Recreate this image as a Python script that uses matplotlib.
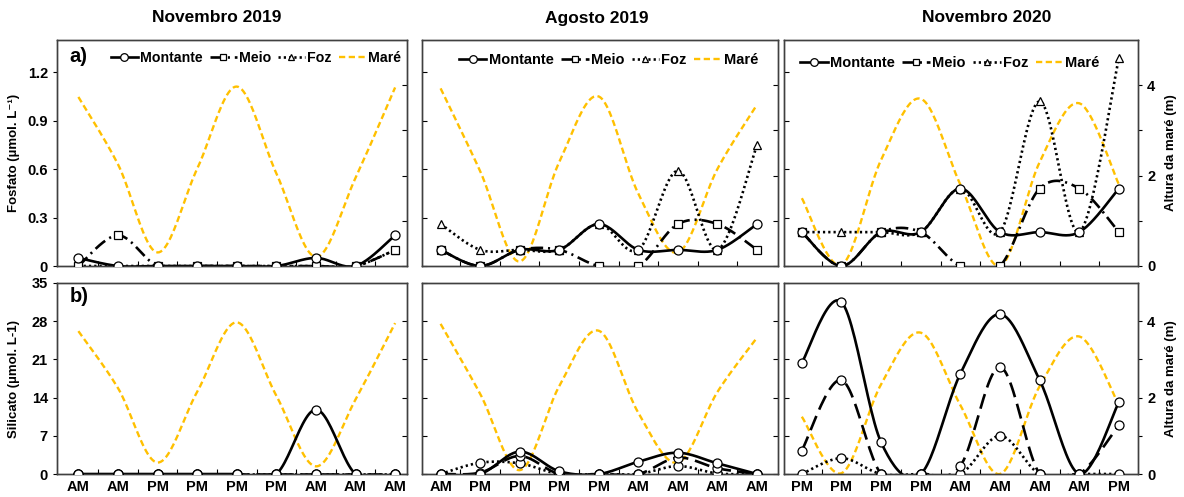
import numpy as np
import matplotlib
matplotlib.use("Agg")
import matplotlib.pyplot as plt
from matplotlib.lines import Line2D

plt.rcParams['font.family'] = ['Liberation Sans', 'DejaVu Sans']
plt.rcParams['font.weight'] = 'bold'
plt.rcParams['axes.labelweight'] = 'bold'
plt.rcParams['lines.scale_dashes'] = False

# ------------------------------
# dados
# ------------------------------
titulos = ["Novembro 2019", "Agosto 2019", "Novembro 2020"]
periodos = [
    ["AM", "AM", "PM", "PM", "PM", "PM", "AM", "AM", "AM"],
    ["AM", "PM", "PM", "PM", "PM", "AM", "AM", "AM", "AM"],
    ["PM", "PM", "PM", "PM", "AM", "AM", "AM", "AM", "PM"],
]

# altura da maré (m)
mare_nov19 = [3.74, 2.25, 0.3, 2.15, 3.97, 2.05, 0.2, 1.95, 3.95]
mare_ago19 = [3.93, 2.1, 0.1, 2.3, 3.75, 1.6, 0.3, 2.15, 3.57]
mare_nov20 = [1.5, 0.02, 2.35, 3.7, 1.8, 0.0, 2.3, 3.6, 1.8]

# fosfato (µmol/L)
fos_nov19_mont = [0.05, 0, 0, 0, 0, 0, 0.05, 0, 0.19]
fos_nov19_meio = [0, 0.19, 0, 0, 0, 0, 0, 0, 0.1]
fos_nov19_foz = [0, 0, 0, 0, 0, 0, 0, 0, 0.1]
fos_ago19_mont = [0.1, 0, 0.1, 0.1, 0.26, 0.1, 0.1, 0.1, 0.26]
fos_ago19_meio = [0.1, 0, 0.1, 0.1, 0, 0, 0.26, 0.26, 0.1]
fos_ago19_foz = [0.26, 0.1, 0.1, 0.1, 0.26, 0.1, 0.59, 0.1, 0.75]
fos_nov20_mont = [0.21, 0, 0.21, 0.21, 0.48, 0.21, 0.21, 0.21, 0.48]
fos_nov20_meio = [0.21, 0, 0.21, 0.21, 0, 0, 0.48, 0.48, 0.21]
fos_nov20_foz = [0.21, 0.21, 0.21, 0.21, 0.48, 0.21, 1.02, 0.21, 1.29]

# silicato (µmol/L)
sil_nov19_mont = [0, 0, 0, 0, 0, 0, 11.8, 0, 0]
sil_nov19_meio = [0, 0, 0, 0, 0, 0, 0, 0, 0]
sil_nov19_foz = [0, 0, 0, 0, 0, 0, 0, 0, 0]
sil_ago19_mont = [0, 0, 4.1, 0.5, 0, 2.25, 3.9, 1.95, 0]
sil_ago19_meio = [0, 0.25, 3.3, 0, 0, 0, 3.0, 1.04, 0]
sil_ago19_foz = [0, 2.07, 1.95, 0, 0, 0, 1.46, 0.1, 0]
sil_nov20_mont = [20.4, 31.5, 5.8, 0, 18.4, 29.3, 17.2, 0, 13.2]
sil_nov20_meio = [4.3, 17.2, 0, 0, 1.5, 19.6, 0, 0, 9.0]
sil_nov20_foz = [0, 2.9, 0, 0, 0, 7.0, 0, 0, 0]

mares = [mare_nov19, mare_ago19, mare_nov20]
fosfato = [
    (fos_nov19_mont, fos_nov19_meio, fos_nov19_foz),
    (fos_ago19_mont, fos_ago19_meio, fos_ago19_foz),
    (fos_nov20_mont, fos_nov20_meio, fos_nov20_foz),
]
silicato = [
    (sil_nov19_mont, sil_nov19_meio, sil_nov19_foz),
    (sil_ago19_mont, sil_ago19_meio, sil_ago19_foz),
    (sil_nov20_mont, sil_nov20_meio, sil_nov20_foz),
]

AMARELO = "#FFC000"
ls_mont = "-"
ls_meio_top = (0, (9, 3.5, 1.5, 3.5))
ls_meio_bot = (0, (11, 5))
ls_foz = (0, (1.6, 2.2))
ls_mare = (0, (4.5, 2.5))


# ------------------------------
# linha suavizada (estilo Excel)
# ------------------------------
def suavizar(y, n=25):
    y = np.asarray(y, float)
    x = np.arange(len(y), dtype=float)
    xs, ys = [], []
    for i in range(len(y) - 1):
        i0, i3 = max(i - 1, 0), min(i + 2, len(y) - 1)
        p0 = np.array([x[i], y[i]])
        p3 = np.array([x[i + 1], y[i + 1]])
        c1 = p0 + (np.array([x[i + 1], y[i + 1]]) - np.array([x[i0], y[i0]])) / 6
        c2 = p3 - (np.array([x[i3], y[i3]]) - np.array([x[i], y[i]])) / 6
        t = np.linspace(0, 1, n)[:, None]
        b = ((1 - t) ** 3) * p0 + 3 * ((1 - t) ** 2) * t * c1 + 3 * (1 - t) * t ** 2 * c2 + t ** 3 * p3
        xs.extend(b[:, 0])
        ys.extend(b[:, 1])
    return np.array(xs), np.array(ys)


# ------------------------------
# figura
# ------------------------------
fig = plt.figure(figsize=(11.84, 4.97), dpi=100)
W, H = 1184, 497
cols_px = [(57, 407), (422, 778), (784, 1138)]
rows_px = [(40, 266), (283, 474)]
xlims = [(-0.54, 8.3), (-0.47, 8.53), (-0.45, 8.48)]
leg_pos = [(0.568, 0.92), (0.524, 0.91), (0.469, 0.898)]
leg_fs = [10.2, 10.5, 10.5]
titulo_x = [217, 597, 987]

for r, (y0, y1) in enumerate(rows_px):
    for c, (x0, x1) in enumerate(cols_px):
        ax = fig.add_axes([x0 / W, 1 - y1 / H, (x1 - x0) / W, (y1 - y0) / H])
        ax2 = ax.twinx()
        ax.set_zorder(ax2.get_zorder() + 1)
        ax.patch.set_visible(False)

        xi = np.arange(9)
        # maré no eixo secundário
        xs, ys = suavizar(mares[c])
        ax2.plot(xs, ys, color=AMARELO, lw=1.7, ls=ls_mare)
        ax2.set_ylim(0, 5)
        ax2.set_yticks([0, 1, 2, 3, 4])

        if r == 0:
            series = fosfato[c]
            marcadores = ["o", "s", "^"]
            estilos = [ls_mont, ls_meio_top, ls_foz]
        else:
            series = silicato[c]
            marcadores = ["o", "o", "o"]
            estilos = [ls_mont, ls_meio_bot, ls_foz]

        for k in [2, 1, 0]:
            xs, ys = suavizar(series[k])
            ax.plot(xs, ys, color="black", lw=1.9, ls=estilos[k], zorder=2)
        for k in [2, 1, 0]:
            ms = 6.5 if marcadores[k] == "o" else 6
            ax.plot(xi, series[k], ls="none", marker=marcadores[k], ms=ms,
                    mfc="white", mec="black", mew=0.9, zorder=3)

        ax.set_xlim(*xlims[c])
        if r == 0:
            ax.set_ylim(0, 1.4)
            ax.set_yticks([0, 0.3, 0.6, 0.9, 1.2])
            ax.set_yticklabels(["0", "0.3", "0.6", "0.9", "1.2"])
        else:
            ax.set_ylim(0, 35)
            ax.set_yticks([0, 7, 14, 21, 28, 35])

        ax.set_xticks(xi)
        ax.set_xticks(np.arange(0.5, 8, 1), minor=True)
        if r == 1:
            ax.set_xticklabels(periodos[c])
        else:
            ax.set_xticklabels([])
        ax.tick_params(axis="x", which="major", length=0, labelsize=10.5, pad=4)
        ax.tick_params(axis="x", which="minor", length=3.5, direction="in", width=0.8)

        if c == 0:
            ax.tick_params(axis="y", direction="out", length=3, labelsize=10.5, width=0.8)
        else:
            ax.tick_params(axis="y", direction="in", length=3.5, labelleft=False, width=0.8)
        if c == 2:
            ax2.set_yticklabels(["0", "", "2", "", "4"])
            ax2.tick_params(axis="y", direction="out", length=3, labelsize=10.5, width=0.8)
        else:
            ax2.tick_params(axis="y", direction="in", length=3.5, labelright=False, width=0.8)

        for a in (ax, ax2):
            for s in a.spines.values():
                s.set_color("#404040")
                s.set_linewidth(1.0)

        if c == 0:
            if r == 0:
                ax.set_ylabel("Fosfato (µmol. L⁻¹)", fontsize=9.5)
                ax.text(0.035, 0.925, "a)", transform=ax.transAxes, fontsize=14.5,
                        fontweight="bold", ha="left", va="center")
            else:
                ax.set_ylabel("Silicato (µmol. L-1)", fontsize=9.5)
                ax.text(0.035, 0.927, "b)", transform=ax.transAxes, fontsize=14.5,
                        fontweight="bold", ha="left", va="center")
            ax.yaxis.set_label_coords(-0.105, 0.5)
        if c == 2:
            ax2.set_ylabel("Altura da maré (m)", fontsize=9.5)
            ax2.yaxis.set_label_coords(1.076, 0.5)

        if r == 0:
            hs = [
                Line2D([], [], color="black", lw=1.9, ls=ls_mont, marker="o", ms=5.5,
                       mfc="white", mec="black", mew=0.9),
                Line2D([], [], color="black", lw=1.9, ls=ls_meio_top, marker="s", ms=5,
                       mfc="white", mec="black", mew=0.9),
                Line2D([], [], color="black", lw=1.9, ls=ls_foz, marker="^", ms=5,
                       mfc="white", mec="black", mew=0.9),
                Line2D([], [], color=AMARELO, lw=1.7, ls=ls_mare),
            ]
            ax.legend(hs, ["Montante", "Meio", "Foz", "Maré"], ncol=4, frameon=False,
                      loc="center", bbox_to_anchor=leg_pos[c], fontsize=leg_fs[c],
                      handlelength=1.9, handletextpad=0.15, columnspacing=0.5,
                      borderpad=0.2, borderaxespad=0.0)

for c in range(3):
    fig.text(titulo_x[c] / W, 1 - 18 / H, titulos[c], fontsize=12.5, fontweight="bold",
             ha="center", va="center")

fig.savefig("out.png", dpi=100)
